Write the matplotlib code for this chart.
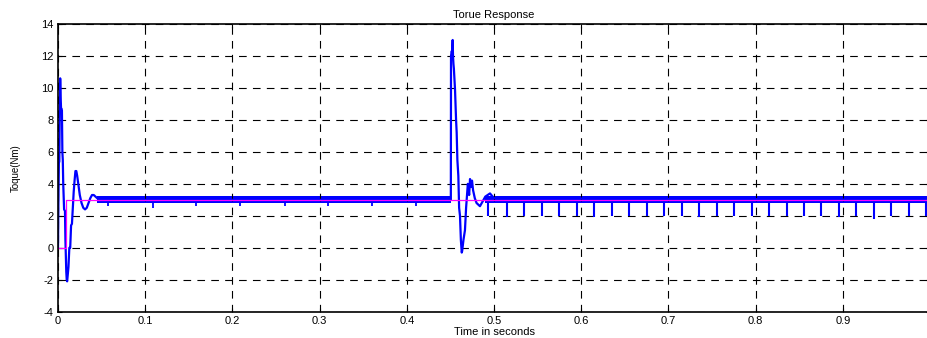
import matplotlib
matplotlib.use('Agg')
import matplotlib.pyplot as plt

# torque response (blue)
torque_t = [0, 0.0005, 0.001, 0.0015, 0.002, 0.0025, 0.003, 0.0035, 0.004, 0.0045,
            0.005, 0.0055, 0.006, 0.007, 0.008, 0.0085, 0.009, 0.0095, 0.010, 0.0105,
            0.011, 0.012, 0.013, 0.014, 0.015, 0.016, 0.017, 0.018, 0.019, 0.020,
            0.021, 0.022, 0.023, 0.025, 0.027, 0.029, 0.031, 0.033, 0.035, 0.037,
            0.039, 0.041, 0.043, 0.045, 0.048, 0.052, 0.056,
            0.4505, 0.4507, 0.4515, 0.452, 0.4526, 0.453, 0.4535, 0.454, 0.4553,
            0.4565, 0.4572, 0.458, 0.4591, 0.460, 0.461, 0.462, 0.463, 0.4635,
            0.465, 0.4667, 0.468, 0.470, 0.4715, 0.4725, 0.4735, 0.4748, 0.476,
            0.478, 0.480, 0.4839, 0.487, 0.490, 0.4954, 0.500, 1.0]
torque_v = [0, 3.0, 5.3, 5.4, 8.5, 10.6, 9.5, 8.7, 8.7, 8.6,
            6.0, 5.5, 4.0, 2.4, 2.3, 0.5, -0.5, -1.5, -2.0, -2.1,
            -1.8, -1.2, 0.0, 0.0, 1.4, 1.5, 2.5, 3.5, 4.2, 4.8,
            4.8, 4.5, 4.1, 3.3, 2.8, 2.5, 2.4, 2.5, 2.8, 3.1,
            3.3, 3.3, 3.2, 3.1, 3.0, 2.9, 3.0,
            3.0, 12.0, 12.3, 12.2, 13.0, 12.0, 11.5, 11.2, 9.9,
            8.0, 7.2, 5.5, 4.5, 2.5, 2.0, 0.5, -0.3, -0.2,
            0.5, 1.1, 2.5, 4.0, 3.3, 4.3, 3.8, 4.2, 3.6,
            3.1, 2.8, 2.6, 2.9, 3.2, 3.4, 3.1, 3.0]

# ripple band around the steady state
ripple_t1 = [0.045, 0.4505]
ripple_t2 = [0.49, 1.0]
ripple_lo = 2.8
ripple_hi = 3.25

# small dips before the load step, larger ones after it
dips1_t = [0.057, 0.109, 0.158, 0.209, 0.260, 0.310, 0.360, 0.410]
dips1_v = [2.6, 2.5, 2.6, 2.6, 2.6, 2.6, 2.6, 2.6]
dips2_t = [0.4935, 0.5145, 0.5345, 0.5545, 0.5750, 0.5950, 0.6150, 0.6350, 0.6550,
           0.6750, 0.6950, 0.7155, 0.7355, 0.7555, 0.7755, 0.7955, 0.8155, 0.8355,
           0.8555, 0.8755, 0.8955, 0.9155, 0.9355, 0.9555, 0.9755, 0.9955]
dips2_v = [2.0, 1.9, 2.0, 2.0, 2.0, 2.0, 1.9, 2.0, 2.0,
           2.0, 2.0, 2.0, 1.9, 2.0, 2.0, 2.0, 2.0, 2.0,
           2.0, 2.0, 1.9, 2.0, 1.8, 2.0, 2.0, 2.0]

# reference torque (magenta)
ref_t = [0, 0.0092, 0.0092, 1.0]
ref_v = [0, 0, 3.0, 3.0]

xticks = [0, 0.1, 0.2, 0.3, 0.4, 0.5, 0.6, 0.7, 0.8, 0.9]
xticklabels = ['0', '0.1', '0.2', '0.3', '0.4', '0.5', '0.6', '0.7', '0.8', '0.9']
yticks = [-4, -2, 0, 2, 4, 6, 8, 10, 12, 14]

plt.rcParams['font.family'] = ['Liberation Sans', 'DejaVu Sans']
plt.rcParams['lines.scale_dashes'] = False
plt.rcParams['axes.unicode_minus'] = False

fig = plt.figure(figsize=(9.27, 3.38), dpi=100)
ax = fig.add_axes([58 / 927, 26.3 / 338, 872 / 927, 287.7 / 338])

ax.fill_between(ripple_t1, ripple_lo, ripple_hi, color='#0000ff', lw=0)
ax.fill_between(ripple_t2, ripple_lo, ripple_hi, color='#0000ff', lw=0)
ax.plot(torque_t, torque_v, color='#0000ff', lw=1.6)
ax.vlines(dips1_t, dips1_v, 3.0, color='#0000ff', lw=1.3)
ax.vlines(dips2_t, dips2_v, 3.0, color='#0000ff', lw=1.5)
ax.plot(ref_t, ref_v, color='#ff00ff', lw=0.9)

ax.set_xlim(0, 1.0)
ax.set_ylim(-4, 14)
ax.set_xticks(xticks)
ax.set_xticklabels(xticklabels)
ax.set_yticks(yticks)
ax.tick_params(direction='in', top=True, right=True, labelsize=8, length=3, width=0.8, pad=3)
ax.grid(True, color='k', linestyle=(0, (5.5, 4.5)), lw=0.8)
for s in ax.spines.values():
    s.set_linewidth(1.2)

ax.set_title('Torue Response', fontsize=8, pad=4)
ax.set_xlabel('Time in seconds', fontsize=8, labelpad=1)
ax.set_ylabel('Toque(Nm)', fontsize=7, labelpad=15)

fig.savefig('out.png', dpi=100)
